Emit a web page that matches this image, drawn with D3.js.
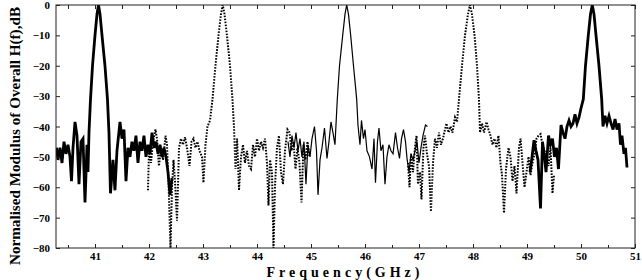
<!DOCTYPE html>
<html>
<head>
<meta charset="utf-8">
<script src="https://cdn.jsdelivr.net/npm/d3@7/dist/d3.min.js"></script>
<style>
  body { margin: 0; background: #fff; }
  text { font-family: "Liberation Serif", "DejaVu Serif", serif; font-weight: bold; fill: #000; }
</style>
</head>
<body>
<div id="chart"></div>
<script>
// [frequency GHz, normalised |H(f)| dB], one array per channel
const channel1 = [[40.287,-47],[40.315,-51],[40.352,-47],[40.389,-52],[40.426,-45],[40.463,-49],[40.500,-46],[40.537,-50],
  [40.565,-58],[40.593,-47],[40.630,-38.5],[40.667,-43],[40.704,-59],[40.741,-45],[40.778,-44],[40.815,-65],[40.852,-46],
  [40.870,-55],[40.889,-42],[40.917,-31],[40.954,-20],[41.000,-10],[41.037,-3],[41.065,0],[41.093,-3],[41.130,-10],
  [41.185,-20],[41.231,-31],[41.259,-42],[41.287,-62],[41.333,-51],[41.370,-61],[41.407,-48],[41.463,-38.5],[41.500,-44],
  [41.537,-41],[41.574,-58],[41.611,-47],[41.648,-50],[41.685,-45],[41.722,-48],[41.759,-43],[41.796,-52],[41.833,-45],
  [41.870,-48],[41.907,-43],[41.944,-50],[41.981,-46],[42.019,-49],[42.056,-42],[42.093,-47],[42.130,-45],[42.167,-49],
  [42.204,-46],[42.241,-50],[42.278,-47],[42.315,-50],[42.352,-55],[42.389,-62.5],[42.426,-57]];

const channel2 = [[41.981,-61],[42.000,-48],[42.037,-52],[42.074,-45],[42.120,-41],[42.148,-44],[42.185,-53],[42.222,-47],
  [42.259,-51],[42.306,-43],[42.333,-46],[42.361,-58],[42.398,-80],[42.426,-60],[42.454,-51],[42.481,-58],[42.519,-71],
  [42.556,-47],[42.593,-44],[42.630,-46],[42.667,-43.5],[42.704,-47],[42.750,-53],[42.787,-45],[42.824,-44],[42.861,-47],
  [42.898,-45],[42.935,-48],[42.981,-50],[43.009,-58.5],[43.046,-46],[43.083,-40],[43.130,-38],[43.176,-31],[43.231,-20],
  [43.287,-10],[43.333,-3],[43.365,0],[43.398,-3],[43.444,-10],[43.500,-20],[43.546,-31],[43.574,-40],[43.602,-54],
  [43.630,-44],[43.667,-61],[43.704,-50],[43.741,-46],[43.778,-52],[43.815,-48],[43.852,-53],[43.889,-54],[43.926,-46],
  [43.963,-50],[44.000,-44],[44.037,-48],[44.074,-45],[44.111,-47],[44.148,-44],[44.185,-52],[44.213,-66],[44.241,-51],
  [44.278,-55],[44.306,-80],[44.333,-60],[44.370,-47],[44.407,-43],[44.444,-55],[44.481,-59],[44.519,-48],[44.565,-41],
  [44.602,-42],[44.639,-48],[44.676,-45],[44.713,-54],[44.750,-47],[44.787,-52],[44.824,-65],[44.861,-46],[44.898,-51],
  [44.935,-45],[44.972,-50]];

const channel3 = [[44.574,-45],[44.611,-50],[44.648,-43],[44.685,-47],[44.722,-42],[44.759,-48],[44.796,-44],[44.833,-50],
  [44.870,-45],[44.907,-59],[44.944,-46],[44.981,-50],[45.019,-44],[45.065,-40],[45.102,-48],[45.130,-62.5],[45.167,-51],
  [45.204,-47],[45.250,-40.5],[45.296,-50.5],[45.333,-45],[45.370,-38.5],[45.407,-42],[45.444,-46],[45.487,-31],
  [45.528,-20],[45.587,-10],[45.630,-3],[45.661,0],[45.694,-3],[45.735,-10],[45.787,-20],[45.846,-31],[45.870,-39.5],
  [45.907,-46],[45.935,-38],[45.972,-44],[46.000,-41],[46.037,-48],[46.083,-50],[46.130,-54],[46.167,-44],[46.194,-58.5],
  [46.231,-45],[46.259,-40.5],[46.296,-48],[46.333,-46],[46.370,-59],[46.407,-50],[46.444,-46],[46.481,-48],[46.519,-49],
  [46.565,-42],[46.602,-47],[46.639,-50.5],[46.676,-44],[46.713,-41],[46.750,-45],[46.778,-50.5],[46.815,-55],[46.852,-49],
  [46.889,-51],[46.926,-48],[46.963,-45],[47.000,-52],[47.037,-47],[47.074,-43],[47.120,-39.5],[47.157,-40]];

const channel4 = [[46.796,-52],[46.824,-60],[46.852,-49],[46.889,-55],[46.926,-47],[46.954,-43],[46.981,-59],[47.019,-55],
  [47.046,-64],[47.083,-47],[47.111,-43],[47.148,-49],[47.185,-53],[47.222,-68],[47.259,-52],[47.296,-44],[47.333,-47],
  [47.370,-42],[47.407,-46],[47.444,-44],[47.481,-41],[47.509,-39],[47.546,-42],[47.583,-40],[47.620,-42],[47.667,-37],
  [47.704,-38.5],[47.741,-31],[47.796,-20],[47.852,-10],[47.907,-3],[47.944,0],[47.981,-3],[48.028,-10],[48.074,-20],
  [48.111,-31],[48.130,-42],[48.167,-39],[48.204,-42],[48.250,-38.5],[48.287,-41],[48.324,-43],[48.361,-46],[48.398,-44],
  [48.435,-47],[48.472,-43],[48.509,-52],[48.537,-56],[48.574,-68.5],[48.611,-54],[48.657,-47],[48.694,-50],[48.731,-58],
  [48.769,-53],[48.806,-62],[48.852,-47],[48.880,-44],[48.917,-52],[48.954,-60],[48.991,-55],[49.028,-50],[49.065,-56],
  [49.102,-52],[49.139,-49],[49.176,-44],[49.213,-43],[49.250,-42.5],[49.287,-46],[49.324,-48],[49.361,-50],[49.398,-53],
  [49.435,-47],[49.472,-62],[49.500,-56]];

const channel5 = [[49.056,-55],[49.093,-50],[49.130,-44.5],[49.167,-48],[49.204,-51],[49.250,-67],[49.287,-45],[49.324,-50],
  [49.352,-55],[49.398,-43],[49.435,-46],[49.472,-44],[49.509,-50],[49.546,-47],[49.583,-54],[49.630,-39.5],[49.667,-42],
  [49.704,-44],[49.741,-40],[49.778,-38],[49.815,-40],[49.852,-39],[49.889,-36],[49.926,-39],[49.963,-37],[50.000,-34],
  [50.043,-31],[50.083,-20],[50.135,-10],[50.176,-3],[50.209,0],[50.241,-3],[50.278,-10],[50.333,-20],[50.383,-31],
  [50.407,-40],[50.444,-36.5],[50.481,-39],[50.519,-36.5],[50.556,-39],[50.593,-41],[50.630,-37.5],[50.667,-41],
  [50.704,-39],[50.731,-46],[50.759,-43],[50.796,-49],[50.824,-47],[50.852,-53.5]];

const xTicks = [41, 42, 43, 44, 45, 46, 47, 48, 49, 50, 51];
const xMinorTicks = [40.5, 41.5, 42.5, 43.5, 44.5, 45.5, 46.5, 47.5, 48.5, 49.5, 50.5];
const yTicks = [0, -10, -20, -30, -40, -50, -60, -70, -80];

const width = 642, height = 280;
const plot = { left: 56, right: 635, top: 5, bottom: 248 };

const svg = d3.select("#chart").append("svg")
  .attr("width", width)
  .attr("height", height);

const x = d3.scaleLinear().domain([40.278, 51]).range([plot.left, plot.right]);
const y = d3.scaleLinear().domain([-80, 0]).range([plot.bottom, plot.top]);

svg.append("defs").append("clipPath").attr("id", "plotclip")
  .append("rect")
    .attr("x", plot.left).attr("y", plot.top)
    .attr("width", plot.right - plot.left).attr("height", plot.bottom - plot.top);

const line = d3.line()
  .x(function(d) { return x(d[0]); })
  .y(function(d) { return y(d[1]); });

const g = svg.append("g").attr("clip-path", "url(#plotclip)");

// solid thick, dotted, thin solid, dotted, solid thick
const styles = [
  { data: channel1, w: 2.8, dash: null },
  { data: channel2, w: 2, dash: "1.6,1.4" },
  { data: channel3, w: 1.2, dash: null },
  { data: channel4, w: 2, dash: "1.6,1.4" },
  { data: channel5, w: 2.8, dash: null }
];

styles.forEach(function(s) {
  g.append("path")
    .datum(s.data)
    .attr("fill", "none")
    .attr("stroke", "#000")
    .attr("stroke-width", s.w)
    .attr("stroke-dasharray", s.dash)
    .attr("d", line);
});

// axes, MATLAB style: box with inward ticks
function tidy(sel) {
  sel.select(".domain").remove();
  sel.selectAll(".tick line").attr("stroke", "#222");
  sel.selectAll("text").style("font-size", "11px");
}

svg.append("g")
  .attr("transform", `translate(0,${plot.bottom})`)
  .call(d3.axisBottom(x).tickValues(xTicks).tickSizeInner(-4).tickSizeOuter(0).tickPadding(4).tickFormat(d3.format("d")))
  .call(tidy);

svg.append("g")
  .attr("transform", `translate(0,${plot.bottom})`)
  .call(d3.axisBottom(x).tickValues(xMinorTicks).tickSizeInner(-3).tickSizeOuter(0).tickFormat(""))
  .call(tidy);

svg.append("g")
  .attr("transform", `translate(0,${plot.top})`)
  .call(d3.axisTop(x).tickValues(xTicks.concat(xMinorTicks)).tickSizeInner(-4).tickSizeOuter(0).tickFormat(""))
  .call(tidy);

svg.append("g")
  .attr("transform", `translate(${plot.left},0)`)
  .call(d3.axisLeft(y).tickValues(yTicks).tickSizeInner(-4).tickSizeOuter(0).tickPadding(6).tickFormat(d3.format("d")))
  .call(tidy);

svg.append("g")
  .attr("transform", `translate(${plot.right},0)`)
  .call(d3.axisRight(y).tickValues(yTicks).tickSizeInner(-4).tickSizeOuter(0).tickFormat(""))
  .call(tidy);

svg.append("rect")
  .attr("x", plot.left).attr("y", plot.top)
  .attr("width", plot.right - plot.left).attr("height", plot.bottom - plot.top)
  .attr("fill", "none")
  .attr("stroke", "#222")
  .attr("stroke-width", 1);

// axis titles
svg.append("text")
  .attr("x", 343)
  .attr("y", 277)
  .attr("text-anchor", "middle")
  .attr("textLength", 153)
  .attr("lengthAdjust", "spacing")
  .style("font-size", "14px")
  .text("Frequency(GHz)");

svg.append("text")
  .attr("transform", "translate(20,136) rotate(-90)")
  .attr("text-anchor", "middle")
  .attr("textLength", 258)
  .attr("lengthAdjust", "spacingAndGlyphs")
  .style("font-size", "15px")
  .text("Normalised Modulus of Overall H(f),dB");
</script>
</body>
</html>
